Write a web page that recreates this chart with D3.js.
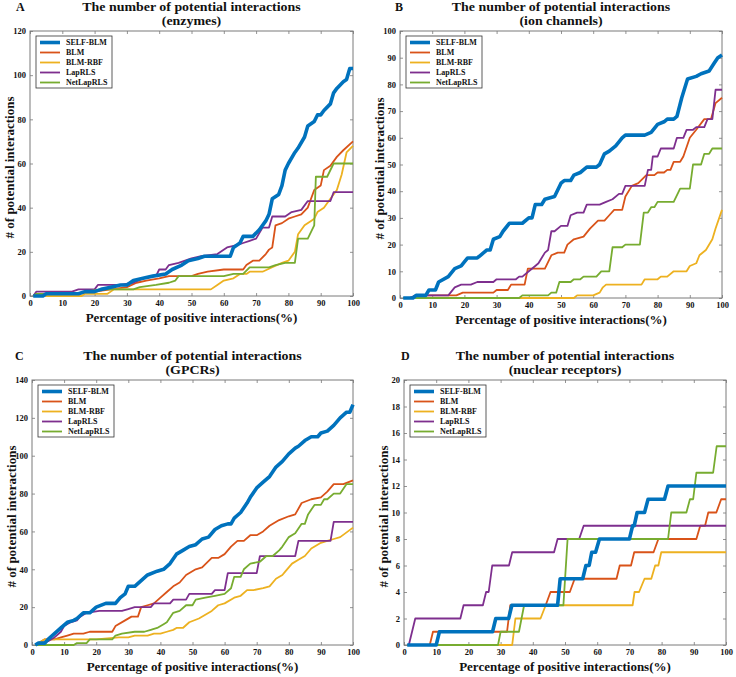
<!DOCTYPE html>
<html><head><meta charset="utf-8">
<script src="https://cdn.jsdelivr.net/npm/d3@7"></script>
<style>
body{margin:0;background:#fff}
text{font-family:"Liberation Serif","Times New Roman",serif;font-weight:bold;fill:#111}
</style>
</head><body>
<svg id="chart" width="736" height="677"></svg>
<script>
// ---------- data ----------
const methods = ["SELF-BLM","BLM","BLM-RBF","LapRLS","NetLapRLS"];
const colors  = ["#0072BD","#D95319","#EDB120","#7E2F8E","#77AC30"];
const panelLetters = ["A","B","C","D"];
const panelTitle = "The number of potential interactions";
const panelSubtitles = ["(enzymes)","(ion channels)","(GPCRs)","(nuclear receptors)"];
const xLabel = "Percentage of positive interactions(%)";
const yLabel = "# of potential interactions";
const xTicks = [0,10,20,30,40,50,60,70,80,90,100];
const yMaxes = [120,100,140,20];
const ySteps = [20,10,20,2];

// A: enzymes
const aSelf=[[1,0],[4,0],[5,1],[15,1],[17,2],[20,2],[22,3],[25,4],[28,5],[30,5],[32,7],[35,8],[38,9],[42,10],[44,12],[47,14],[49,16],[52,17],[54,18],[62,18],[63,22],[65,24],[66,27],[69,27],[71,30],[73,34],[74,37],[75,44],[77,46],[78,50],[79,57],[80,60],[82,65],[83,67],[85,72],[86,77],[88,79],[89,82],[90,82],[91,84],[93,87],[94,92],[95,94],[97,97],[98,98],[99,103],[100,103]];
const aBLM=[[1,0],[2,1],[15,1],[20,2],[25,3],[30,4],[33,6],[36,7],[40,8],[43,9],[50,9],[52,10],[55,11],[60,12],[66,12],[67,14],[69,16],[71,16],[73,19],[74,21],[75,22],[76,32],[78,33],[80,35],[82,36],[84,37],[86,40],[88,48],[90,50],[91,57],[93,59],[95,63],[97,66],[100,70]];
const aRBF=[[1,0],[16,0],[17,1],[24,1],[26,3],[56,3],[58,5],[60,7],[63,8],[65,10],[67,10],[68,11],[72,11],[75,13],[78,15],[80,16],[82,20],[83,28],[85,32],[87,34],[88,35],[89,38],[91,40],[93,44],[95,48],[96.5,55],[98,65],[100,68]];
const aLap=[[1,0],[2,2],[13,2],[15,3],[20,3],[21,5],[28,5],[32,6],[35,8],[38,9],[39,9],[40,12],[42,12],[43,14],[46,15],[50,17],[53,18],[58,19],[61,22],[64,23],[66,24],[68,25],[70,26],[72,31],[74,31],[75,36],[79,36],[81,38],[84,39],[86,43],[93,43],[94,47],[100,47]];
const aNet=[[1,0],[2,1],[15,1],[17,2],[22,3],[32,3],[34,4],[39,5],[43,6],[45,7],[46,9],[60,9],[63,10],[66,10],[68,13],[74,13],[76,14],[79,15],[82,15],[83,26],[86,26],[88,32],[88.5,54],[92,54],[94,60],[100,60]];

// B: ion channels
const bSelf=[[1,0],[4,0],[5,1],[8,1],[9,3],[11,3],[12,6],[15,8],[17,11],[19,12],[21,15],[24,15],[25,16],[27,18],[28,18],[29,22],[31,23],[32,25],[34,28],[38,28],[40,30],[41,30],[42,35],[44,35],[45,37],[48,38],[50,43],[51,44],[53,44],[54,46],[56,47],[58,49],[61,49],[62,50],[63.5,54],[65,55],[67,57],[69,60],[70,61],[76,61],[78,62],[80,65],[82,66],[83,67],[85,67],[86,68],[87.5,75],[89.3,82],[92,83],[93.5,84],[96,85],[97.6,88],[98.7,90],[100,91]];
const bBLM=[[1,0],[3,0],[5,1],[17.5,1],[19.5,2],[29,2],[30,3],[33.5,3],[34.5,5],[38.7,5],[39.7,11],[45,11],[47,16],[49,17],[51,17],[52,20],[54,22],[57,23],[59,26],[61.5,29],[63.5,29],[65,31],[66.5,33],[69,33],[70,38],[72,42],[74,43],[76.5,46],[79,46],[80,47],[82,47],[83,48],[84,48],[85,51],[87,51],[88,53],[90,60],[92,63],[94.5,67],[96.6,67],[98,73],[100,75]];
const bRBF=[[1,0],[54,0],[55,1],[60,1],[62,2],[63,4],[64,5],[75,5],[76,7],[80,7],[81,8],[83,8],[85,10],[89,10],[90,12],[92,13],[93,16],[95,18],[97,22],[98,26],[100,33]];
const bLap=[[1,0],[3,0],[5,1],[15,1],[17,4],[19,5],[22,5],[24,6],[29,6],[30,7],[36,7],[37,8],[38,8],[40,10],[42,12],[43,13],[45,17],[46,18],[47,25],[48,25],[50,27],[52,27],[53,31],[55,32],[57,32],[58,35],[62,35],[64,36],[66,37],[68,39],[69,39],[70,42],[76,42],[77,48],[78,48],[78.5,53],[80,53],[81,56],[85,56],[86,60],[88,60],[89,63],[91,63],[92,64],[94.5,64],[95.5,67],[97,67],[98,78],[100,78]];
const bNet=[[1,0],[37,0],[38,1],[46,1],[47,2],[48.5,2],[49.5,6],[53,6],[54,7],[56,7],[57,8],[61,8],[62.5,10],[65,10],[66,19],[69,19],[70,20],[74.5,20],[75.7,32],[77,32],[78,34],[79,34],[80,36],[85,36],[87,41],[90,41],[91,50],[93.5,50],[94.5,54],[96,54],[97,56],[100,56]];

// C: GPCRs
const cSelf=[[1,0],[2,1],[4,1],[5,3],[7,6],[9,9],[11,12],[13,13],[14,14],[16,17],[18,17],[20,20],[23,22],[26,22],[27.5,25],[29,27],[30,31],[32,31],[34,34],[36,37],[39,39],[41,40],[43,43],[45,48],[47,50],[49,52],[51,53],[53,56],[55,57],[57,61],[59,63],[61,64],[62,64],[63,67],[65,70],[67,75],[68,78],[70,83],[72,86],[74,89],[76,94],[78,97],[80,101],[82,104],[83,105],[85,108],[87,110],[89,110],[90,112],[92,113],[94,116],[96,120],[98,123],[99,123],[100,127]];
const cBLM=[[1,0],[4,3],[7,3],[9,4],[11,5],[13,6],[16,6],[18,7],[25,7],[26,10],[29,13],[31,15],[33,15],[34,20],[36,21],[38,22],[40,25],[42,28],[44,31],[46,33],[48,37],[51,40],[53,41],[56,46],[58,46],[60,48],[62,52],[64,55],[66,55],[68,58],[70,58],[72,60],[74,63],[77,66],[80,68],[82,69],[84,75],[87,77],[90,78],[92,81],[94,85],[97,85],[100,87]];
const cRBF=[[1,0],[4,3],[20,3],[27,4],[30,4],[32,5],[36,5],[38,6],[40,6],[42,7],[44,8],[45,9],[47,9],[49,12],[52,14],[54,16],[56,18],[58,21],[60,22],[63,25],[65,26],[67,29],[69,29],[72,30],[74,31],[76,35],[78,37],[79,39],[81,43],[83,45],[85,47],[87,51],[90,54],[92,55],[94,56],[96,57],[100,62]];
const cLap=[[1,0],[3,1],[5,2],[7,4],[9,7],[10,10],[12,12],[14,13],[15,15],[17,17],[21,18],[28,18],[30,19],[32,20],[37,20],[38,22],[43,22],[44,24],[48,24],[49,27],[56,27],[57,29],[60,29],[61,38],[70,38],[71,47],[82,47],[83,55],[93,55],[94,65],[100,65]];
const cNet=[[1,0],[13,0],[14,1],[17,1],[18,3],[25,3],[26,5],[28,6],[32,7],[35,7],[37,8],[39,9],[41,11],[42,12],[44,17],[46,18],[48,21],[50,21],[51,24],[54,25],[57,26],[60,27],[62,30],[63,36],[65,36],[66,40],[68,43],[71,44],[73,47],[75,47],[77,50],[78,52],[80,57],[82,59],[84,64],[85,64],[86,69],[88,74],[90,74],[91,77],[92,77],[94,80],[96,80],[98,85],[100,85]];

// D: nuclear receptors
const dSelf=[[1,0],[10,0],[11,1],[27.5,1],[28.5,2],[32.5,2],[33.5,3],[47.7,3],[48.5,5],[55.5,5],[56.5,6],[57.5,6],[58.3,7],[59.5,7],[60.7,8],[70,8],[71,9],[71.5,9],[72.4,10],[74.7,10],[75.8,11],[80.9,11],[82,12],[100,12]];
const dBLM=[[1,0],[8,0],[9,1],[32,1],[33,3],[44,3],[45.5,4],[51.5,4],[53,5],[66,5],[67,6],[70.5,6],[71.5,7],[77.5,7],[79,8],[90.8,8],[92,9],[93.5,9],[94.5,10],[97,10],[98.5,11],[100,11]];
const dRBF=[[1,0],[33.6,0],[34.6,2],[42.4,2],[44,3],[71,3],[71.6,4],[73,4],[74.7,5],[76.8,5],[78,6],[79,6],[79.9,7],[100,7]];
const dLap=[[1,0],[1.5,0],[3.5,2],[17.5,2],[18.5,3],[24.5,3],[25.5,4],[26.3,4],[27.4,6],[32.6,6],[33.6,7],[46.6,7],[47.7,8],[54.4,8],[55.8,9],[100,9]];
const dNet=[[1,0],[29.2,0],[30,1],[35.7,1],[37.3,3],[49.5,3],[50.8,8],[82,8],[83,10],[87.7,10],[88.8,11],[89.8,11],[90.8,13],[96,13],[97.1,15],[100,15]];

const panelSeries = [
  [aSelf,aBLM,aRBF,aLap,aNet],
  [bSelf,bBLM,bRBF,bLap,bNet],
  [cSelf,cBLM,cRBF,cLap,cNet],
  [dSelf,dBLM,dRBF,dLap,dNet]
];

// ---------- layout ----------
const boxes = [
  {x0:30, x1:353, y0:31, y1:296, lx:16},
  {x0:400,x1:722, y0:31, y1:298, lx:395},
  {x0:32, x1:353, y0:380,y1:645, lx:15},
  {x0:404,x1:726, y0:380,y1:645, lx:401}
];

const svg = d3.select("#chart");

panelSeries.forEach((series, p) => {
  const b = boxes[p];
  const x = d3.scaleLinear().domain([0,100]).range([b.x0,b.x1]);
  const y = d3.scaleLinear().domain([0,yMaxes[p]]).range([b.y1,b.y0]);
  const g = svg.append("g");
  const yTicks = d3.range(0, yMaxes[p] + ySteps[p]/2, ySteps[p]);

  // axes (ticks inward, on both sides)
  const tl = 3;
  g.append("g").attr("transform",`translate(0,${b.y1})`)
    .call(d3.axisBottom(x).tickValues(xTicks).tickSize(-tl).tickPadding(4).tickFormat(d3.format("d")));
  g.append("g").attr("transform",`translate(0,${b.y0})`)
    .call(d3.axisTop(x).tickValues(xTicks).tickSize(-tl).tickFormat(""));
  g.append("g").attr("transform",`translate(${b.x0},0)`)
    .call(d3.axisLeft(y).tickValues(yTicks).tickSize(-tl).tickPadding(4).tickFormat(d3.format("d")));
  g.append("g").attr("transform",`translate(${b.x1},0)`)
    .call(d3.axisRight(y).tickValues(yTicks).tickSize(-tl).tickFormat(""));
  g.selectAll(".domain").remove();
  g.selectAll(".tick line").attr("stroke","#777").attr("stroke-width",0.8);
  g.selectAll(".tick text").attr("font-size","8.5px").attr("fill","#222")
    .style("font-family",'"Liberation Serif","Times New Roman",serif').style("font-weight","bold");

  g.append("rect").attr("x",b.x0).attr("y",b.y0).attr("width",b.x1-b.x0).attr("height",b.y1-b.y0)
    .attr("fill","none").attr("stroke","#7a7a7a").attr("stroke-width",1);

  // lines: draw others first, SELF-BLM on top
  const line = d3.line().x(d=>x(d[0])).y(d=>y(d[1]));
  [1,2,3,4,0].forEach(i => {
    g.append("path").datum(series[i]).attr("d",line)
      .attr("fill","none").attr("stroke",colors[i])
      .attr("stroke-width", i===0 ? 3.6 : 1.8)
      .attr("stroke-linejoin","round");
  });

  // legend
  const lg = g.append("g").attr("transform",`translate(${b.x0+6},${b.y0+5})`);
  lg.append("rect").attr("width",76).attr("height",52).attr("fill","#fff")
    .attr("stroke","#333").attr("stroke-width",0.8);
  methods.forEach((m,i) => {
    const yy = 6.5 + i*10;
    lg.append("line").attr("x1",4).attr("x2",24).attr("y1",yy).attr("y2",yy)
      .attr("stroke",colors[i]).attr("stroke-width", i===0 ? 3.6 : 1.8);
    lg.append("text").attr("x",30).attr("y",yy).attr("dy","0.35em")
      .attr("font-size","8px").text(m);
  });

  // titles (slightly wide lettering, as in the reference)
  const cx = (b.x0+b.x1)/2;
  g.append("text").attr("transform",`translate(${cx},${b.y0-20}) scale(1.16,1)`)
    .attr("text-anchor","middle").attr("font-size","12px").text(panelTitle);
  g.append("text").attr("transform",`translate(${cx},${b.y0-6.5}) scale(1.16,1)`)
    .attr("text-anchor","middle").attr("font-size","12px").text(panelSubtitles[p]);
  g.append("text").attr("x",b.lx).attr("y",b.y0-20)
    .attr("font-size","12px").text(panelLetters[p]);

  // axis labels
  g.append("text").attr("x",cx).attr("y",b.y1+26).attr("text-anchor","middle")
    .attr("font-size","13px").text(xLabel);
  g.append("text").attr("transform",`translate(${b.x0-16},${(b.y0+b.y1)/2+4}) rotate(-90)`)
    .attr("text-anchor","middle").attr("font-size","13px").text(yLabel);
});
</script>
</body></html>
